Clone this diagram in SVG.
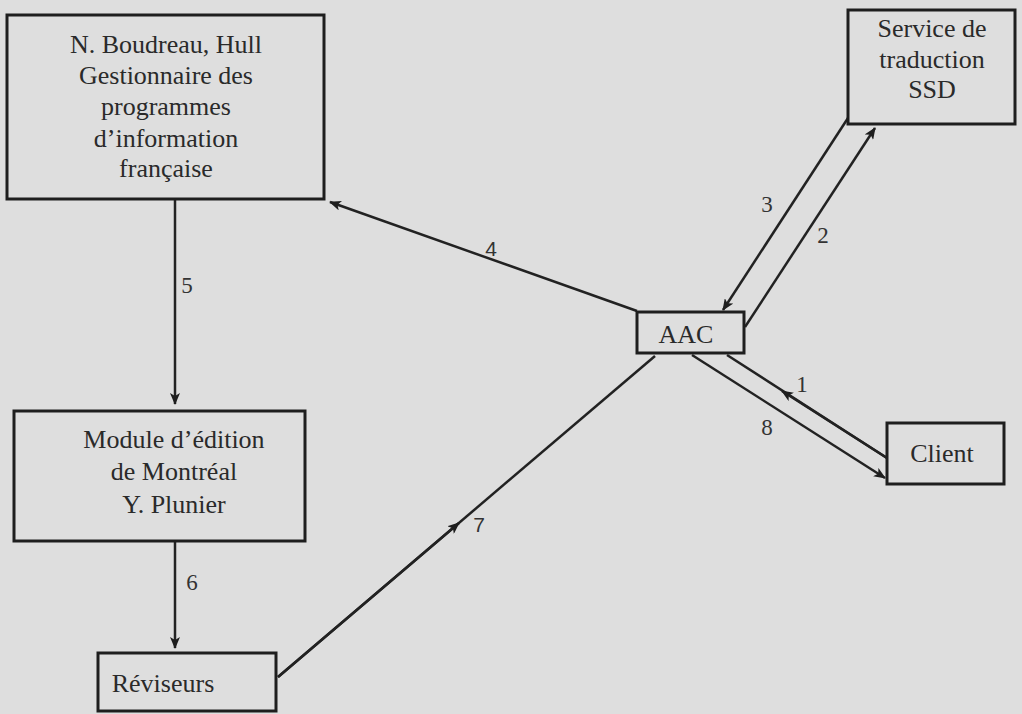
<svg xmlns="http://www.w3.org/2000/svg" width="1022" height="714" viewBox="0 0 1022 714">
<style>
.box{fill:none;stroke:#1e1e1e;stroke-width:3}
.t{font-family:"Liberation Serif",serif;font-size:26px;fill:#2a2a2a;text-anchor:middle}
.c{stroke:#222;stroke-width:2.5;fill:none}
.lbl{font-family:"Liberation Serif",serif;font-size:23px;fill:#333;text-anchor:middle}
.lbs{font-family:"Liberation Sans",sans-serif;font-size:21px;fill:#333;text-anchor:middle}
</style>
<defs>
<marker id="ah" viewBox="0 0 12 10" refX="11" refY="5" markerWidth="12" markerHeight="10" markerUnits="userSpaceOnUse" orient="auto">
<path d="M0,0 L12,5 L0,10 L3,5 Z" fill="#1e1e1e"/>
</marker>
</defs>
<rect width="1022" height="714" fill="#dedede"/>
<g id="connectors">
<line class="c" x1="637" y1="311" x2="330" y2="202" marker-end="url(#ah)"/>
<line class="c" x1="848" y1="118" x2="723" y2="310" marker-end="url(#ah)"/>
<line class="c" x1="745" y1="327" x2="875" y2="128" marker-end="url(#ah)"/>
<line class="c" x1="887" y1="458" x2="727" y2="355"/>
<line class="c" x1="887" y1="458" x2="782" y2="391" marker-end="url(#ah)"/>
<line class="c" x1="692" y1="355" x2="885" y2="478" marker-end="url(#ah)"/>
<line class="c" x1="175" y1="199" x2="175" y2="404" marker-end="url(#ah)"/>
<line class="c" x1="175" y1="541" x2="175" y2="648" marker-end="url(#ah)"/>
<line class="c" x1="278" y1="677" x2="655" y2="356"/>
<line class="c" x1="278" y1="677" x2="459" y2="523" marker-end="url(#ah)"/>
<text class="lbs" x="491" y="256">4</text>
<text class="lbl" x="767" y="212">3</text>
<text class="lbl" x="823" y="243">2</text>
<text class="lbl" x="802" y="392">1</text>
<text class="lbl" x="767" y="435">8</text>
<text class="lbl" x="187" y="293">5</text>
<text class="lbl" x="192" y="590">6</text>
<text class="lbs" x="479" y="532">7</text>
</g>
<g id="boudreau">
<rect class="box" x="7" y="15" width="317" height="184"/>
<text class="t" x="166" y="53">N. Boudreau, Hull</text>
<text class="t" x="166" y="84">Gestionnaire des</text>
<text class="t" x="166" y="115">programmes</text>
<text class="t" x="166" y="147">d’information</text>
<text class="t" x="166" y="177">française</text>
</g>
<g id="ssd">
<rect class="box" x="848" y="10" width="167" height="114"/>
<text class="t" x="932" y="37">Service de</text>
<text class="t" x="932" y="68">traduction</text>
<text class="t" x="932" y="98">SSD</text>
</g>
<g id="aac">
<rect class="box" x="637" y="312" width="107" height="41"/>
<text class="t" x="686" y="343">AAC</text>
</g>
<g id="client">
<rect class="box" x="887" y="423" width="117" height="61"/>
<text class="t" x="942" y="462">Client</text>
</g>
<g id="module">
<rect class="box" x="14" y="411" width="291" height="130"/>
<text class="t" x="174" y="448">Module d’édition</text>
<text class="t" x="174" y="480">de Montréal</text>
<text class="t" x="174" y="513">Y. Plunier</text>
</g>
<g id="reviseurs">
<rect class="box" x="98" y="653" width="178" height="58"/>
<text class="t" x="163" y="692">Réviseurs</text>
</g>
</svg>
